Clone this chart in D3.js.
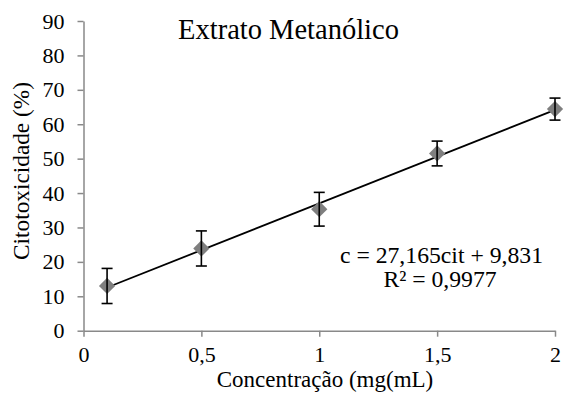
<!DOCTYPE html>
<html>
<head>
<meta charset="utf-8">
<script src="https://cdn.jsdelivr.net/npm/d3@7"></script>
<style>
  html, body { margin: 0; padding: 0; background: #fff; }
  svg, svg text { font-family: 'Liberation Serif', 'Times New Roman', serif; }
  svg { display: block; }
</style>
</head>
<body>
<svg id="chart" width="564" height="407"></svg>
<script>
// Data
const concentrations = [0.1, 0.5, 1, 1.5, 2];
const cytotoxicity = [13.0, 23.9, 35.3, 51.5, 64.4];
const errors = [5.1, 5.1, 4.9, 3.6, 3.2];
const xTicks = [0, 0.5, 1, 1.5, 2];
const xTickLabels = ["0", "0,5", "1", "1,5", "2"];
const yTicks = [0, 10, 20, 30, 40, 50, 60, 70, 80, 90];
const trendSlope = 27.165;
const trendIntercept = 9.831;
const titleText = "Extrato Metanólico";
const xTitle = "Concentração (mg(mL)";
const yTitle = "Citotoxicidade (%)";
const eqLines = ["c = 27,165cit + 9,831", "R² = 0,9977"];

(function () {
const svg = d3.select("#chart");
const mLeft = 83.5, mRight = 555, mTop = 21, mBottom = 330.7;
const FONT = "'Liberation Serif', 'Times New Roman', serif";

const x = d3.scaleLinear().domain([0, 2]).range([mLeft, mRight]);
const y = d3.scaleLinear().domain([0, 90]).range([mBottom, mTop]);

const axisColor = "#898989";

// Y axis
const yAxis = svg.append("g").attr("transform", `translate(${mLeft},0)`)
  .call(d3.axisLeft(y).tickValues(yTicks).tickSize(6).tickPadding(13).tickSizeOuter(0))
  .attr("font-family", FONT).attr("font-size", 22);
yAxis.select(".domain").attr("stroke", axisColor).attr("stroke-width", 1.5);
yAxis.selectAll(".tick line").attr("stroke", axisColor).attr("stroke-width", 1.5);
yAxis.selectAll(".tick text").attr("fill", "#000");

// X axis
const xAxis = svg.append("g").attr("transform", `translate(0,${mBottom})`)
  .call(d3.axisBottom(x).tickValues(xTicks).tickFormat((d, i) => xTickLabels[i])
    .tickSize(6).tickPadding(10).tickSizeOuter(0))
  .attr("font-family", FONT).attr("font-size", 22);
xAxis.select(".domain").attr("stroke", axisColor).attr("stroke-width", 1.5);
xAxis.selectAll(".tick line").attr("stroke", axisColor).attr("stroke-width", 1.5);
xAxis.selectAll(".tick text").attr("fill", "#000");

// Trend line
const xMin = d3.min(concentrations), xMax = d3.max(concentrations);
svg.append("line")
  .attr("x1", x(xMin)).attr("y1", y(trendSlope * xMin + trendIntercept))
  .attr("x2", x(xMax)).attr("y2", y(trendSlope * xMax + trendIntercept))
  .attr("stroke", "#000").attr("stroke-width", 1.8);

// Points
const pts = concentrations.map((c, i) => ({ c, v: cytotoxicity[i], e: errors[i] }));
const diamond = d3.symbol().type(d3.symbolSquare).size(11.5 * 11.5);
svg.append("g").selectAll("path").data(pts).join("path")
  .attr("d", diamond)
  .attr("transform", d => `translate(${x(d.c)},${y(d.v)}) rotate(45)`)
  .attr("fill", "#7f7f7f");

// Error bars
const eb = svg.append("g").attr("stroke", "#000").attr("stroke-width", 1.6);
const cap = 5.5;
pts.forEach(d => {
  const cx = x(d.c);
  eb.append("line").attr("x1", cx).attr("x2", cx).attr("y1", y(d.v + d.e)).attr("y2", y(d.v - d.e));
  eb.append("line").attr("x1", cx - cap).attr("x2", cx + cap).attr("y1", y(d.v + d.e)).attr("y2", y(d.v + d.e));
  eb.append("line").attr("x1", cx - cap).attr("x2", cx + cap).attr("y1", y(d.v - d.e)).attr("y2", y(d.v - d.e));
});

// Title
svg.append("text").attr("x", 288.5).attr("y", 39).attr("text-anchor", "middle")
  .attr("font-family", FONT).attr("font-size", 28.5).text(titleText);

// Equation
svg.append("text").attr("x", 441.5).attr("y", 263).attr("text-anchor", "middle")
  .attr("font-family", FONT).attr("font-size", 23.7).text(eqLines[0]);
svg.append("text").attr("x", 440).attr("y", 287).attr("text-anchor", "middle")
  .attr("font-family", FONT).attr("font-size", 23.7).text(eqLines[1]);

// Axis titles
svg.append("text").attr("x", 325).attr("y", 387).attr("text-anchor", "middle")
  .attr("font-family", FONT).attr("font-size", 23).text(xTitle);
svg.append("text").attr("transform", "translate(29,171) rotate(-90)").attr("text-anchor", "middle")
  .attr("font-family", FONT).attr("font-size", 23.3).text(yTitle);
})();
</script>
</body>
</html>
